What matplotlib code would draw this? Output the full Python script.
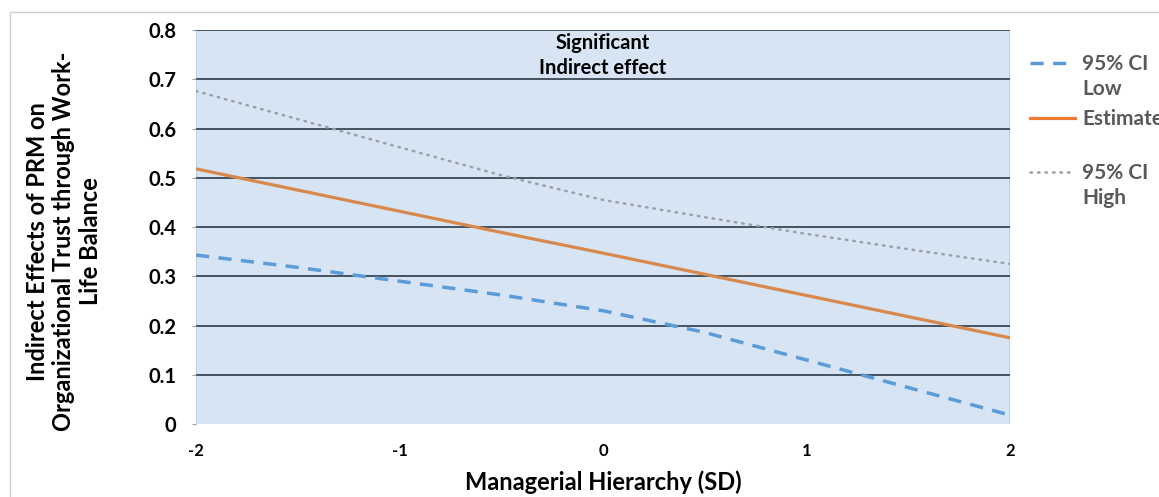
import numpy as np
import matplotlib.pyplot as plt
from matplotlib.patches import Rectangle

# data
hierarchy = [-2, -1.5, -1, -0.5, 0, 0.5, 1, 1.5, 2]
ci_low = [0.343, 0.318, 0.290, 0.262, 0.230, 0.186, 0.130, 0.074, 0.018]
estimate = [0.518, 0.475, 0.432, 0.389, 0.347, 0.304, 0.261, 0.218, 0.175]
ci_high = [0.676, 0.619, 0.562, 0.505, 0.455, 0.420, 0.386, 0.355, 0.325]
x_ticks = [-2, -1, 0, 1, 2]
y_ticks = [0, 0.1, 0.2, 0.3, 0.4, 0.5, 0.6, 0.7, 0.8]

plt.rcParams['font.family'] = ['Lato', 'DejaVu Sans']

fig = plt.figure(figsize=(11.59, 4.97), dpi=100)
# outer chart border (Excel-style), runs past the right/bottom edge
fig.patches.append(Rectangle((10 / 1159, -0.1), 1.2, 1 - 12 / 497 + 0.1,
                             transform=fig.transFigure, fill=False,
                             edgecolor='#D0D0D0', linewidth=1.0))

ax = fig.add_axes([196 / 1159, 1 - 424 / 497, (1010 - 196) / 1159, (424 - 30) / 497])

# shaded "significant" region
ax.fill_between([-2, 2], 0, 0.8, color='#D6E4F3', zorder=0, linewidth=0)
ax.axvline(-2, color='#BDD3EC', linewidth=1.5, zorder=1)
ax.axvline(2, color='#BDD3EC', linewidth=1.5, zorder=1)
ax.hlines([v for v in y_ticks if v > 0], -2, 2, color='#2C3A48', linewidth=1.2, zorder=1)

ax.plot(hierarchy, ci_low, color='#5A9BD8', linewidth=2.5, linestyle=(0, (3.8, 2.7)),
        label='95% CI', zorder=3)
ax.plot(hierarchy, estimate, color='#D8884C', linewidth=2.3, label='Estimate', zorder=3)
ax.plot(hierarchy, ci_high, color='#9AA0A8', linewidth=1.8, linestyle=(0, (0.6, 2.4)),
        dash_capstyle='round', label='95% CI', zorder=3)

ax.text(0, 0.748, 'Significant\nIndirect effect', ha='center', va='center',
        fontsize=14.5, fontweight='bold', linespacing=1.3)

ax.set_xlim(-2, 2)
ax.set_ylim(0, 0.8)
ax.set_xticks(x_ticks)
ax.set_xticklabels([str(v) for v in x_ticks], fontsize=12, fontweight='bold')
ax.set_yticks(y_ticks)
ax.set_yticklabels(['0' if v == 0 else f'{v:.1f}' for v in y_ticks],
                   fontsize=14.5, fontweight='bold')
ax.tick_params(axis='x', length=0, pad=14)
ax.tick_params(axis='y', length=3, color='#A0A0A0', pad=11)
for s in ax.spines.values():
    s.set_visible(False)

ax.set_xlabel('Managerial Hierarchy (SD)', fontsize=17, fontweight='bold')
ax.xaxis.set_label_coords(0.5, -0.117)
ax.set_ylabel('Indirect Effects of PRM on\nOrganizational Trust through Work-\nLife Balance',
              fontsize=17, fontweight='bold', linespacing=1.18)
ax.yaxis.set_label_coords(-0.116, 0.464)

leg = fig.legend(loc='upper left', bbox_to_anchor=(1022 / 1159, 1 - 46 / 497),
                 frameon=False, fontsize=15, handlelength=2.15, handletextpad=0.33,
                 labelspacing=1.66, borderaxespad=0)
leg.legend_handles[0].set_color('#5B9BD5')
leg.legend_handles[1].set_color('#ED7D31')
for t in leg.get_texts():
    t.set_color('#595959')
    t.set_fontweight('bold')

# second lines of the two CI labels, lined up under the legend text
fig.canvas.draw()
inv = fig.transFigure.inverted()
for txt, second in [(leg.get_texts()[0], 'Low'), (leg.get_texts()[2], 'High')]:
    bb = txt.get_window_extent()
    x0, y0 = inv.transform((bb.x0, bb.y0))
    fig.text(x0, y0 - 5 / 497, second, color='#595959', fontsize=15,
             fontweight='bold', va='top')

plt.savefig('out.png', dpi=100)
